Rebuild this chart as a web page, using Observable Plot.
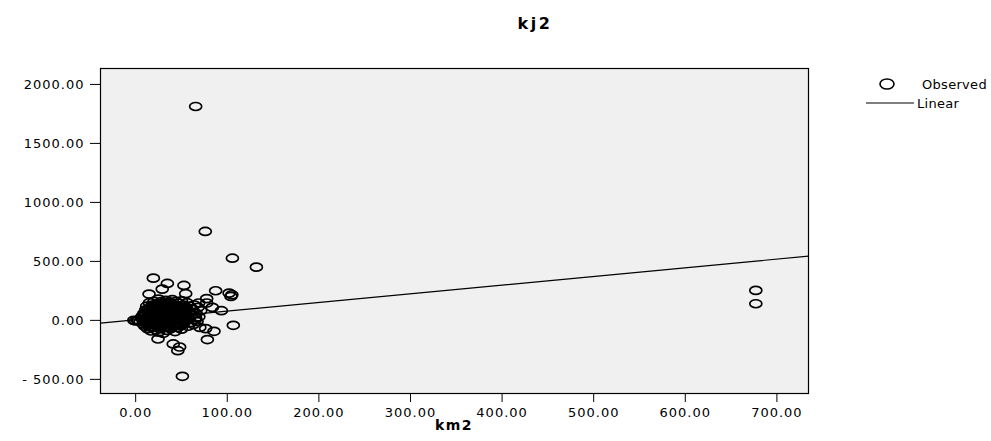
<!DOCTYPE html>
<html>
<head>
<meta charset="utf-8">
<script src="https://cdn.jsdelivr.net/npm/d3@7"></script>
<script src="https://cdn.jsdelivr.net/npm/@observablehq/plot@0.6"></script>
<style>
  html, body { margin: 0; padding: 0; background: #fff; overflow: hidden; }
  #wrap { position: relative; width: 991px; height: 441px; overflow: hidden; }
  .title { position: absolute; left: 535px; top: 14px; transform: translateX(-50%);
           font: bold 16px "DejaVu Sans", sans-serif; letter-spacing: 2.5px; white-space: nowrap; }
  .xlabel { position: absolute; left: 454px; top: 417px; transform: translateX(-50%);
           font: bold 14px "DejaVu Sans", sans-serif; letter-spacing: 1.5px; white-space: nowrap; }
  .legend { position: absolute; left: 860px; top: 75px; font: 13px "DejaVu Sans", sans-serif; letter-spacing: 0.3px; white-space: nowrap; }
  .legend .row { position: absolute; left: 0; height: 18px; display: flex; align-items: center; }
  .legend svg { display: block; }
</style>
</head>
<body>
<div id="wrap"></div>
<script>
// ---- data ----
const km2 = [
  // outliers
  65.5, 76, 105.6, 131.8, 677, 677, 51, 19.3, 34.6, 52.7, 29, 14.6, 54.6, 87.3, 102, 105, 104,
  77.5, 77.5, 68.8, 83.7, 93.6, 71, 65.5, 106.6, 76.4, 85.5, 78.3, 24.4, 41, 48, 46,
  // dense cluster
  -2, 2, 3, 0, 5, 6, 8, 8, 9, 10, 10, 11, 12, 12, 13, 13, 14, 14, 15, 15, 16, 16, 17, 17, 18, 18,
  19, 19, 20, 20, 20, 21, 21, 22, 22, 23, 23, 24, 24, 25, 25, 25, 26, 26, 27, 27, 28, 28, 29, 29,
  30, 30, 30, 31, 31, 32, 32, 33, 33, 34, 34, 35, 35, 36, 36, 37, 37, 38, 38, 39, 39, 40, 40, 41,
  41, 42, 42, 43, 43, 44, 44, 45, 45, 46, 46, 47, 47, 48, 48, 49, 50, 50, 51, 51, 52, 52, 53, 54,
  55, 55, 56, 57, 58, 58, 59, 60, 61, 62, 63, 64, 65, 66, 67, 68, 69, 70,
  7, 9, 11, 12, 14, 15, 17, 18, 19, 21, 22, 23, 24, 26, 27, 28, 29, 31, 32, 33,
  34, 35, 36, 37, 38, 39, 40, 42, 43, 44, 45, 46, 47, 49, 50, 52, 53, 54, 56, 57,
  10, 13, 16, 19, 22, 25, 28, 31, 34, 37, 40, 43, 46, 49, 52, 55,
  20, 24, 28, 32, 36, 40, 44, 48, 26, 30, 34, 38, 42,
  18, 22, 30, 35, 45, 50, 27, 33
];
const kj2 = [
  1813, 754, 527, 451, 254, 141, -474, 358, 313, 296, 265, 223, 226, 251, 231, 217, 203,
  184, 147, 147, 110, 82, 82, 20, -42, -70, -93, -163, -158, -200, -226, -257,
  0, 0, 0, -5, -10, 20, -30, 40, 60, -50, 10, 90, -20, 120, 30, -70, 70, 0, 150, -40, 100, 45, -90, 15, 130, -10,
  80, -60, 160, 35, -25, 110, 55, -80, 5, 140, -45, 75, 25, -100, 180, 95, -15, 50, 125, -65, 10, 160, 85, -35,
  40, -110, 145, 115, -5, 65, -55, 170, 20, 95, -85, 135, 0, 55, -30, 155, 80, -70, 30, 110, -15, 175, 60, -50,
  10, 130, 90, -95, 40, 160, -20, 70, 115, -60, 25, 145, -5, 85, -40, 50, 165, -75, 100, 15, 130, -30, 60, -10,
  90, 35, 150, -50, 70, 10, 120, -20, 45, 95, -35, 130, 5, 60, -10, 110, 30, -60,
  35, -15, 60, 5, 95, -55, 25, 120, -35, 85, -5, 55, 140, 15, -40, 100, 45, 70, -20, 120,
  35, -50, 95, 5, 145, 60, -40, 75, 20, 115, -30, 55, 100, 0, 125, -15, 75, 35, 95, 20,
  50, -25, 75, 0, 110, 40, -30, 85, 25, -60, 120, 5, 80, -45, 55, 110,
  65, -5, 35, 150, 10, 85, -25, 115, 90, 55, -10, 105, 30,
  45, 130, 0, 70, 90, -40, -70, 140
];
const xTicks = [0, 100, 200, 300, 400, 500, 600, 700];
const yTicks = [-500, 0, 500, 1000, 1500, 2000];
// linear fit
const fitIntercept = 5;
const fitSlope = 0.735;

const xDomain = [-38.4, 734.5];
const yDomain = [-620, 2135];

const points = km2.map((x, i) => ({x, y: kj2[i]}));
const fitLine = xDomain.map(x => ({x, y: fitIntercept + fitSlope * x}));

// ellipse symbol (wider than tall), as in the reference
const ellipse = {
  draw(context, size) {
    const r = Math.sqrt(size / Math.PI);
    const rx = r * 1.5, ry = r, k = 0.5523;
    context.moveTo(rx, 0);
    context.bezierCurveTo(rx, k * ry, k * rx, ry, 0, ry);
    context.bezierCurveTo(-k * rx, ry, -rx, k * ry, -rx, 0);
    context.bezierCurveTo(-rx, -k * ry, -k * rx, -ry, 0, -ry);
    context.bezierCurveTo(k * rx, -ry, rx, -k * ry, rx, 0);
    context.closePath();
  }
};

const fmtY = v => v < 0 ? "- " + Math.abs(v).toFixed(2) : v.toFixed(2);

const chart = Plot.plot({
  width: 991,
  height: 441,
  marginLeft: 100,
  marginRight: 183,
  marginTop: 68,
  marginBottom: 48,
  style: {fontFamily: "DejaVu Sans, sans-serif", fontSize: "13px", color: "#000", background: "transparent", overflow: "visible"},
  x: {domain: xDomain, ticks: xTicks, tickFormat: v => v.toFixed(2), tickSize: 9, tickPadding: 5, label: null},
  y: {domain: yDomain, ticks: yTicks, tickFormat: fmtY, tickSize: 10, tickPadding: 6, label: null},
  marks: [
    Plot.frame({fill: "#f0f0f0", stroke: null}),
    Plot.line(fitLine, {x: "x", y: "y", stroke: "#000", strokeWidth: 1.2}),
    Plot.dot(points, {x: "x", y: "y", r: 4, symbol: ellipse, stroke: "#000", strokeWidth: 1.7, fill: "none"}),
    Plot.frame({stroke: "#000", strokeWidth: 1.2})
  ]
});
chart.querySelectorAll('g[aria-label="x-axis tick label"] text, g[aria-label="y-axis tick label"] text').forEach(t => t.style.letterSpacing = "1px");

const wrap = document.getElementById("wrap");
wrap.appendChild(chart);

const title = document.createElement("div");
title.className = "title"; title.textContent = "kj2";
wrap.appendChild(title);

const xl = document.createElement("div");
xl.className = "xlabel"; xl.textContent = "km2";
wrap.appendChild(xl);

const lg = document.createElement("div");
lg.className = "legend";
lg.innerHTML = `
  <div class="row" style="top:0">
    <svg width="62" height="18"><ellipse cx="27" cy="9" rx="7" ry="5" fill="none" stroke="#000" stroke-width="1.6"/></svg>
    <span>Observed</span>
  </div>
  <div class="row" style="top:19px">
    <svg width="57" height="18"><line x1="6" x2="54" y1="9" y2="9" stroke="#000" stroke-width="1.2"/></svg>
    <span>Linear</span>
  </div>`;
wrap.appendChild(lg);
</script>
</body>
</html>
